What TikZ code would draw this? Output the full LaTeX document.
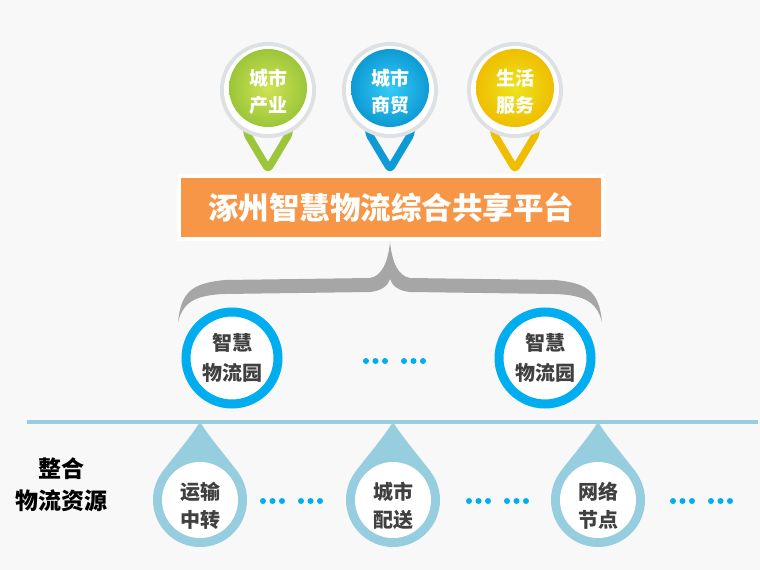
\documentclass[tikz,border=0pt]{standalone}
\usepackage{fontspec}
\newfontfamily\cjk{Noto Sans CJK SC}
\usetikzlibrary{shadows}
\definecolor{bg}{HTML}{F8F8F8}
\definecolor{ringgray}{HTML}{DEE1E4}
\definecolor{greenD}{HTML}{9CC63A}
\definecolor{greenL}{HTML}{CFE352}
\definecolor{blueD}{HTML}{0E9AD4}
\definecolor{blueL}{HTML}{33CCF8}
\definecolor{yellowD}{HTML}{EFBE00}
\definecolor{yellowL}{HTML}{EDE41E}
\definecolor{platorange}{HTML}{F79646}
\definecolor{bracegray}{HTML}{A6A6A6}
\definecolor{parkblue}{HTML}{00AEEF}
\definecolor{dropblue}{HTML}{96CDDF}
\definecolor{darktext}{HTML}{404040}
\tikzset{
  pinlabel/.style={align=center, text=white, font={\cjk\bfseries\fontsize{19}{27}\selectfont}},
  vshape/.style={line width=7.5pt, rounded corners=3pt, line join=round},
  parkring/.style={draw=parkblue, line width=9pt, fill=white},
  parklabel/.style={align=center, text=darktext, font={\cjk\bfseries\fontsize{20}{30}\selectfont}},
  droplabel/.style={align=center, text=darktext, font={\cjk\bfseries\fontsize{20}{28}\selectfont}},
  dotmark/.style={fill=parkblue},
}
\newcommand{\pinat}[3]{% x, colorD, colorL
  \draw[vshape, draw=#2] (#1-21,124) -- (#1-21,134) -- (#1,169) -- (#1+21,134) -- (#1+21,124) -- cycle;
  \fill[ringgray] (#1,90) circle (48);
  \fill[white] (#1,90) circle (44);
  \shade[inner color=#3, outer color=#2] (#1,88) circle (39);
}
\newcommand{\dropat}[1]{%
  \fill[dropblue] (#1,500) circle (47);
  \fill[dropblue] (#1,422) .. controls (#1+10,438) and (#1+25,455) .. (#1+37.5,471.7)
     -- (#1-37.5,471.7) .. controls (#1-25,455) and (#1-10,438) .. (#1,422) -- cycle;
  \fill[white] (#1,500) circle (38);
}
\newcommand{\dotsat}[2]{% start x, y
  \foreach \dx in {0,9.5,19,38,47.5,57} {\fill[dotmark] (#1+\dx,#2) circle (3);}
}
\begin{document}
\begin{tikzpicture}[x=1pt,y=-1pt]
\useasboundingbox (0,0) rectangle (760,570);
\fill[bg] (0,0) rectangle (760,570);

% top pins
\pinat{268}{greenD}{greenL}
\pinat{390}{blueD}{blueL}
\pinat{515}{yellowD}{yellowL}
\node[pinlabel] (p1) at (268,92) {城市\\产业};
\node[pinlabel] (p2) at (390,92) {城市\\商贸};
\node[pinlabel] (p3) at (515,92) {生活\\服务};

% platform box
\node[fill=platorange, draw=white, line width=4pt, minimum width=424pt, minimum height=63pt,
      drop shadow={shadow xshift=1pt, shadow yshift=-2pt, opacity=0.35},
      text=white, font={\cjk\bfseries\fontsize{30.5}{34}\selectfont}] (plat) at (391,207.5) {涿州智慧物流综合共享平台};

% brace
\coordinate (bt) at (390,242);
\fill[bracegray] (178,322) .. controls (181,292) and (192,283) .. (225,280)
  -- (370,278) .. controls (382,276) and (388,262) .. (bt)
  .. controls (392,262) and (398,276) .. (410,278)
  -- (555,280) .. controls (588,283) and (599,292) .. (602,322)
  .. controls (597,303) and (586,295) .. (555,294)
  -- (410,292) .. controls (399,291) and (392,286) .. (390,279)
  .. controls (388,286) and (381,291) .. (370,292)
  -- (225,294) .. controls (194,295) and (183,303) .. (178,322) -- cycle;

% parks
\draw[parkring] (232,358) circle (46);
\draw[parkring] (545,358) circle (46);
\node[parklabel] (park1) at (232,358) {智慧\\物流园};
\node[parklabel] (park2) at (545,358) {智慧\\物流园};
\dotsat{366}{361}

% base line
\coordinate (l1) at (27,422);
\coordinate (l2) at (758,422);
\draw[dropblue, line width=4pt] (l1) -- (l2);

% drops
\dropat{200}
\dropat{393}
\dropat{598}
\node[droplabel] (d1) at (200,506) {运输\\中转};
\node[droplabel] (d2) at (393,506) {城市\\配送};
\node[droplabel] (d3) at (598,506) {网络\\节点};
\dotsat{263}{501}
\dotsat{469}{501}
\dotsat{673}{501}

% left label
\node[align=center, text=black, font={\cjk\bfseries\fontsize{23}{32}\selectfont}] (res) at (61,485) {整合\\物流资源};
\end{tikzpicture}
\end{document}
